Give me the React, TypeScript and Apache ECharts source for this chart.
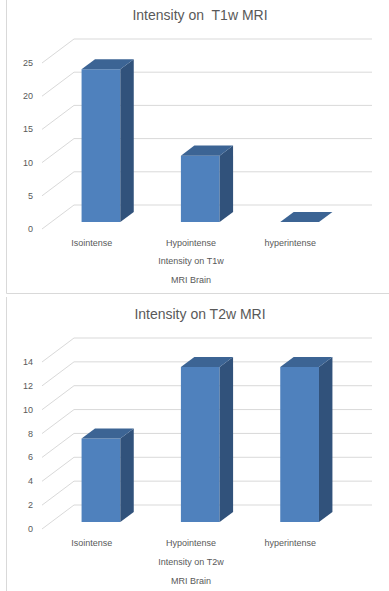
import React, { useEffect, useRef } from "react";
import * as echarts from "echarts";

const categories = ["Isointense", "Hypointense", "hyperintense"];
const t1Values = [23, 10, 0];
const t2Values = [7, 13, 13];
const t1Ticks = [0, 5, 10, 15, 20, 25];
const t2Ticks = [0, 2, 4, 6, 8, 10, 12, 14];
const t1Title = "Intensity on  T1w MRI";
const t2Title = "Intensity on T2w MRI";
const t1AxisName = "Intensity on T1w";
const t2AxisName = "Intensity on T2w";
const subAxisName = "MRI Brain";

const FONT = "'Liberation Sans', Arial, sans-serif";
const TXT = "#595959";
const GRID = "#D9D9D9";
const FRONT = "#4F81BD";
const SIDE = "#31527B";
const TOP = "#3C6494";
const DX = 32;
const DY = -24;
const F1 = 0.29;
const F2 = 0.71;
const BARW = 0.39;

function gridSeries(idx: number, ticks: number[]) {
  return {
    type: "custom",
    xAxisIndex: idx,
    yAxisIndex: idx,
    z: 1,
    silent: true,
    data: ticks.map((v) => [0, v]),
    renderItem: (params: any, api: any) => {
      const cs = params.coordSys;
      const y = api.coord([0, api.value(1)])[1];
      const l = cs.x;
      const r = cs.x + cs.width;
      return {
        type: "polyline",
        shape: { points: [[l, y], [l + DX, y + DY], [r + DX, y + DY]] },
        style: { stroke: GRID, lineWidth: 1, fill: null },
      };
    },
  };
}

function barSeries(idx: number, values: number[]) {
  return {
    type: "custom",
    xAxisIndex: idx,
    yAxisIndex: idx,
    z: 2,
    data: values.map((v, i) => [i, v]),
    renderItem: (params: any, api: any) => {
      const i = api.value(0);
      const v = api.value(1);
      const top = api.coord([i, v]);
      const base = api.coord([i, 0]);
      const band = api.size([1, 0])[0];
      const w = band * BARW;
      const xl = top[0] - w / 2;
      const xr = top[0] + w / 2;
      const ox1 = DX * F1, oy1 = DY * F1, ox2 = DX * F2, oy2 = DY * F2;
      const yt = top[1];
      const yb = base[1];
      const children: any[] = [];
      if (yb - yt > 0.1) {
        children.push({
          type: "polygon",
          shape: { points: [[xl + ox1, yt + oy1], [xr + ox1, yt + oy1], [xr + ox1, yb + oy1], [xl + ox1, yb + oy1]] },
          style: { fill: FRONT },
        });
        children.push({
          type: "polygon",
          shape: { points: [[xr + ox1, yt + oy1], [xr + ox2, yt + oy2], [xr + ox2, yb + oy2], [xr + ox1, yb + oy1]] },
          style: { fill: SIDE },
        });
      }
      children.push({
        type: "polygon",
        shape: { points: [[xl + ox1, yt + oy1], [xr + ox1, yt + oy1], [xr + ox2, yt + oy2], [xl + ox2, yt + oy2]] },
        style: { fill: TOP },
      });
      return { type: "group", children };
    },
  };
}

function xAxis(idx: number, name: string, gap: number) {
  return {
    type: "category",
    gridIndex: idx,
    data: categories,
    axisLine: { show: false },
    axisTick: { show: false },
    splitLine: { show: false },
    axisLabel: { color: TXT, fontSize: 9, fontFamily: FONT, margin: 9 },
    name: name + "\n" + subAxisName,
    nameLocation: "middle",
    nameGap: gap,
    nameTextStyle: { color: TXT, fontSize: 9, fontFamily: FONT, lineHeight: 19 },
  };
}

function yAxis(idx: number, max: number, interval: number) {
  return {
    type: "value",
    gridIndex: idx,
    min: 0,
    max,
    interval,
    axisLine: { show: false },
    axisTick: { show: false },
    splitLine: { show: false },
    axisLabel: { color: TXT, fontSize: 9, fontFamily: FONT, margin: 9 },
  };
}

export default function App() {
  const ref = useRef<HTMLDivElement>(null);
  useEffect(() => {
    if (!ref.current) return;
    const chart = echarts.init(ref.current, null, { renderer: "svg" });
    chart.setOption({
      animation: false,
      backgroundColor: "#ffffff",
      title: [
        {
          text: t1Title,
          left: 200,
          top: 8,
          padding: 0,
          textAlign: "center",
          textStyle: { color: TXT, fontSize: 14, fontWeight: "normal", fontFamily: FONT },
        },
        {
          text: t2Title,
          left: 200,
          top: 307,
          padding: 0,
          textAlign: "center",
          textStyle: { color: TXT, fontSize: 14, fontWeight: "normal", fontFamily: FONT },
        },
      ],
      grid: [
        { left: 42, top: 63, width: 298, height: 166 },
        { left: 42, top: 362, width: 298, height: 169 },
      ],
      xAxis: [xAxis(0, t1AxisName, 22), xAxis(1, t2AxisName, 23)],
      yAxis: [yAxis(0, 25, 5), yAxis(1, 14, 2)],
      series: [gridSeries(0, t1Ticks), barSeries(0, t1Values), gridSeries(1, t2Ticks), barSeries(1, t2Values)],
      graphic: [
        {
          type: "polyline",
          shape: { points: [[6.5, 0], [6.5, 293.5], [389, 293.5]] },
          style: { stroke: GRID, lineWidth: 1, fill: null },
          silent: true,
        },
        {
          type: "line",
          shape: { x1: 6.5, y1: 297, x2: 6.5, y2: 591 },
          style: { stroke: GRID, lineWidth: 1 },
          silent: true,
        },
      ],
    });
    return () => chart.dispose();
  }, []);
  return <div ref={ref} style={{ position: "absolute", left: 0, top: 0, width: 389, height: 591 }} />;
}
